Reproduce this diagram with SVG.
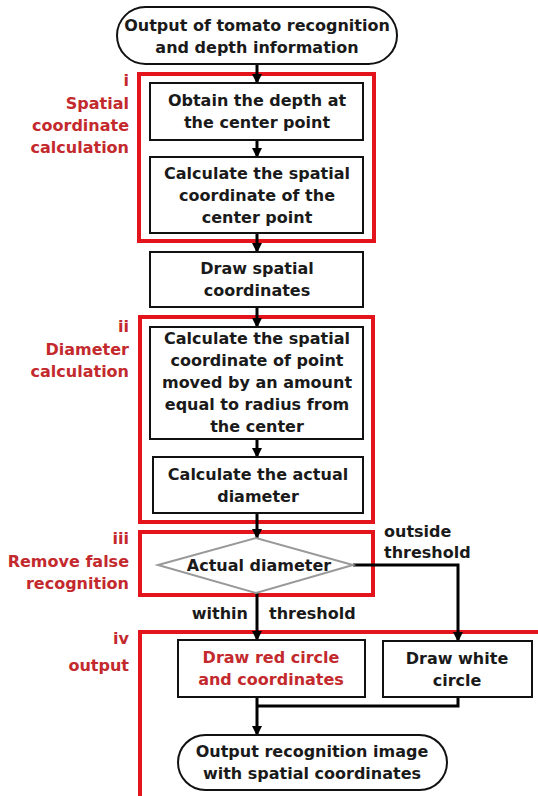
<svg xmlns="http://www.w3.org/2000/svg" width="538" height="796" viewBox="0 0 538 796">
<defs>
<marker id="ah" viewBox="0 0 10 10" refX="9" refY="5" markerWidth="10" markerHeight="10" markerUnits="userSpaceOnUse" orient="auto">
<path d="M0,0 L10,5 L0,10 z" fill="#000"/>
</marker>
<style>
.box{fill:#fff;stroke:#111;stroke-width:2}
.grp{fill:none;stroke:#e3141c;stroke-width:4}
.t{font-family:"DejaVu Sans",sans-serif;font-weight:bold;font-size:16px;fill:#1a1a1a;text-anchor:middle}
.lab{font-family:"DejaVu Sans",sans-serif;font-weight:bold;font-size:16px;fill:#c3292d;text-anchor:end}
.red{fill:#c3292d}
.cn{fill:none;stroke:#000;stroke-width:3}
.dia{fill:#fff;stroke:#999;stroke-width:2}
</style>
</defs>
<rect width="538" height="796" fill="#fff"/>

<g id="groups">
<rect class="grp" x="139" y="74" width="235" height="167"/>
<rect class="grp" x="140" y="317" width="233" height="205"/>
<rect class="grp" x="140" y="532" width="233" height="63"/>
<path class="grp" d="M140,800 V632 H540"/>
</g>

<g id="group-labels">
<text class="lab" x="129" y="86">i</text>
<text class="lab" x="129" y="109">Spatial</text>
<text class="lab" x="129" y="131">coordinate</text>
<text class="lab" x="129" y="153">calculation</text>
<text class="lab" x="129" y="332">ii</text>
<text class="lab" x="129" y="355">Diameter</text>
<text class="lab" x="129" y="377">calculation</text>
<text class="lab" x="129" y="544">iii</text>
<text class="lab" x="129" y="567">Remove false</text>
<text class="lab" x="129" y="589">recognition</text>
<text class="lab" x="129" y="644">iv</text>
<text class="lab" x="129" y="671">output</text>
</g>

<g id="connectors">
<path class="cn" d="M257,64 V83" marker-end="url(#ah)"/>
<path class="cn" d="M257,140 V157" marker-end="url(#ah)"/>
<path class="cn" d="M257,233 V252" marker-end="url(#ah)"/>
<path class="cn" d="M257,307 V327" marker-end="url(#ah)"/>
<path class="cn" d="M257,439 V457" marker-end="url(#ah)"/>
<path class="cn" d="M257,513 V538" marker-end="url(#ah)"/>
<path class="cn" d="M257,593 V640" marker-end="url(#ah)"/>
<path class="cn" d="M353,565 H458 V641" marker-end="url(#ah)"/>
<path class="cn" d="M458,697 V706 H257"/>
<path class="cn" d="M257,697 V735" marker-end="url(#ah)"/>
<text class="t" style="text-anchor:start" x="384" y="537">outside</text>
<text class="t" style="text-anchor:start" x="384" y="558">threshold</text>
<text class="t" style="text-anchor:end" x="248" y="619">within</text>
<text class="t" style="text-anchor:start" x="269" y="619">threshold</text>
</g>

<g id="start">
<rect class="box" x="117" y="7" width="280" height="57" rx="28.5"/>
<text class="t" x="257" y="31">Output of tomato recognition</text>
<text class="t" x="257" y="53">and depth information</text>
</g>

<g id="obtain-depth">
<rect class="box" x="150" y="83" width="213" height="57"/>
<text class="t" x="257" y="106">Obtain the depth at</text>
<text class="t" x="257" y="128">the center point</text>
</g>

<g id="calc-center">
<rect class="box" x="150" y="157" width="213" height="76"/>
<text class="t" x="257" y="179">Calculate the spatial</text>
<text class="t" x="257" y="201">coordinate of the</text>
<text class="t" x="257" y="223">center point</text>
</g>

<g id="draw-coords">
<rect class="box" x="150" y="252" width="213" height="55"/>
<text class="t" x="257" y="274">Draw spatial</text>
<text class="t" x="257" y="296">coordinates</text>
</g>

<g id="calc-radius-point">
<rect class="box" x="150" y="327" width="213" height="112"/>
<text class="t" x="257" y="344">Calculate the spatial</text>
<text class="t" x="257" y="366">coordinate of point</text>
<text class="t" x="257" y="388">moved by an amount</text>
<text class="t" x="257" y="410">equal to radius from</text>
<text class="t" x="257" y="432">the center</text>
</g>

<g id="calc-diameter">
<rect class="box" x="153" y="457" width="210" height="56"/>
<text class="t" x="258" y="480">Calculate the actual</text>
<text class="t" x="258" y="502">diameter</text>
</g>

<g id="decision">
<polygon class="dia" points="158,565 256,538 353,565 256,593"/>
<text class="t" x="259" y="571">Actual diameter</text>
</g>

<g id="draw-red">
<rect class="box" x="178" y="640" width="187" height="57"/>
<text class="t red" x="271" y="663">Draw red circle</text>
<text class="t red" x="271" y="685">and coordinates</text>
</g>

<g id="draw-white">
<rect class="box" x="383" y="641" width="149" height="56"/>
<text class="t" x="457" y="664">Draw white</text>
<text class="t" x="457" y="686">circle</text>
</g>

<g id="end">
<rect class="box" x="178" y="735" width="269" height="55" rx="27.5"/>
<text class="t" x="312" y="757">Output recognition image</text>
<text class="t" x="312" y="779">with spatial coordinates</text>
</g>
</svg>
